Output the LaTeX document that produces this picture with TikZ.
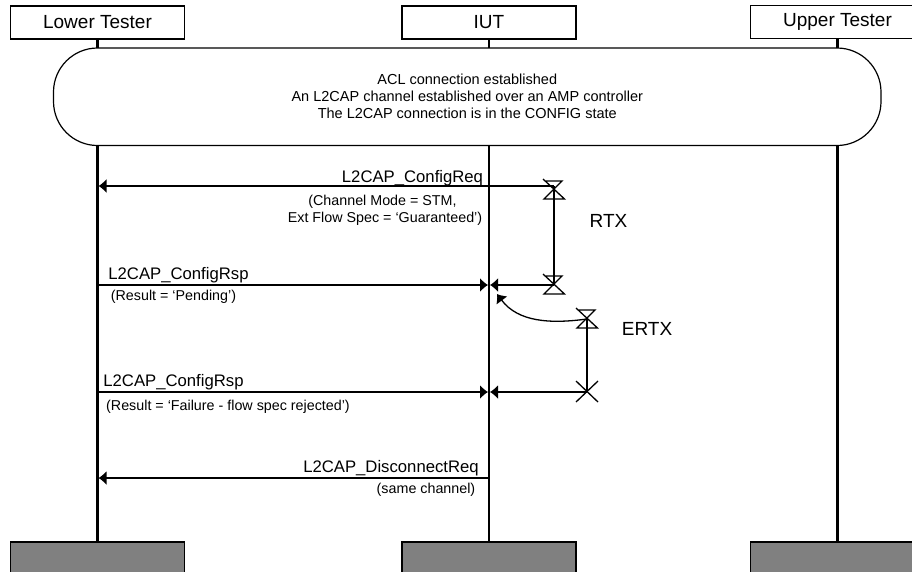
\documentclass[tikz,border=0pt]{standalone}
\usepackage{fontspec}
\setmainfont{Liberation Sans}
\usetikzlibrary{arrows.meta,calc}
\tikzset{
  actor/.style={draw=black,line width=1.2pt,fill=white,minimum width=174pt,minimum height=33pt,inner sep=0pt,font=\fontsize{19}{21}\selectfont},
  foot/.style={draw=black,line width=1.2pt,fill=black!50,minimum width=174pt,minimum height=40pt,inner sep=0pt},
  life/.style={line width=2.2pt,black},
  msg/.style={line width=1.3pt,black,-{Latex[length=8pt,width=14pt]}},
  timer/.style={line width=1.3pt,black},
  lab/.style={font=\fontsize{16.7}{19}\selectfont,inner sep=0pt,anchor=base},
  note/.style={font=\fontsize{14.3}{16.5}\selectfont,inner sep=0pt,align=center,anchor=base},
  tm/.style={font=\fontsize{19}{21}\selectfont,inner sep=0pt,anchor=base},
}
\newcommand{\hourglass}[1]{%
  \draw[timer] ($(#1)+(-11,-11)$) -- ($(#1)+(10.5,9)$) -- ($(#1)+(-10,9)$) -- ($(#1)+(8,-9)$) -- ($(#1)+(-8,-9)$);}
\begin{document}
\begin{tikzpicture}[x=1pt,y=-1pt]
\useasboundingbox (0,0) rectangle (912,571);
\node[actor] (lt) at (97.5,22.5) {Lower Tester};
\node[actor] (iut) at (489,22.5) {IUT};
\node[actor] (ut) at (837.5,22) {Upper Tester};
\node[foot] (ltf) at (97.5,562) {};
\node[foot] (iutf) at (489,562) {};
\node[foot] (utf) at (837.5,562) {};
\draw[life] (lt.south) -- (ltf.north);
\draw[life] (iut.south) -- (iutf.north);
\draw[life] (ut.south) -- (utf.north);
\node[draw=black,line width=1.2pt,fill=white,rounded corners=44pt,minimum width=827.5pt,minimum height=97.5pt,inner sep=0pt,font=\fontsize{14.5}{17}\selectfont,align=center] (cond) at (467.25,96.75)
 {ACL connection established\\An L2CAP channel established over an AMP controller\\The L2CAP connection is in the CONFIG state};
%
\coordinate (l1) at (98.5,186);
\coordinate (i1) at (489,186);
\coordinate (t1) at (554,186);
\coordinate (g1) at (554,190);
\coordinate (t2) at (554,285);
\coordinate (l2) at (97.5,285);
\coordinate (i2) at (488,285);
\coordinate (i2b) at (490,285);
\coordinate (t3) at (587,319);
\coordinate (t4) at (587,392);
\coordinate (l4) at (97.5,392);
\coordinate (i4) at (488,392);
\coordinate (i4b) at (490,392);
\coordinate (l5) at (98.5,478);
\coordinate (i5) at (489,478);
\coordinate (tip) at (497,294);
\draw[msg] (t1) -- (l1);
\draw[msg] (l2) -- (i2);
\draw[msg] (t2) -- (i2b);
\draw[msg] (l4) -- (i4);
\draw[msg] (t4) -- (i4b);
\draw[msg] (i5) -- (l5);
\draw[msg] (t3) .. controls (550,324) and (518,322) .. (tip);
\hourglass{g1}
\hourglass{t2}
\hourglass{t3}
\draw[timer] (t1) -- (t2);
\draw[timer] (t3) -- (t4);
\draw[timer] (576,381) -- (598,402) (576,402) -- (598,381);
\node[lab] (m1) at (412.5,182.5) {L2CAP\_ConfigReq};
\node[note] (n1a) at (382.5,205.7) {(Channel Mode = STM,};
\node[note] (n1b) at (385,222) {Ext Flow Spec = ‘Guaranteed’)};
\node[lab] (m2) at (178.5,279) {L2CAP\_ConfigRsp};
\node[note] (n2) at (173.5,300) {(Result = ‘Pending’)};
\node[lab] (m3) at (173.5,386) {L2CAP\_ConfigRsp};
\node[note,anchor=base west] (n3) at (106,410) {(Result = ‘Failure - flow spec rejected’)};
\node[lab] (m4) at (391,472.7) {L2CAP\_DisconnectReq};
\node[note] (n4) at (426,493) {(same channel)};
\node[tm] (rtx) at (608.5,227) {RTX};
\node[tm] (ertx) at (647,335) {ERTX};
\end{tikzpicture}
\end{document}
